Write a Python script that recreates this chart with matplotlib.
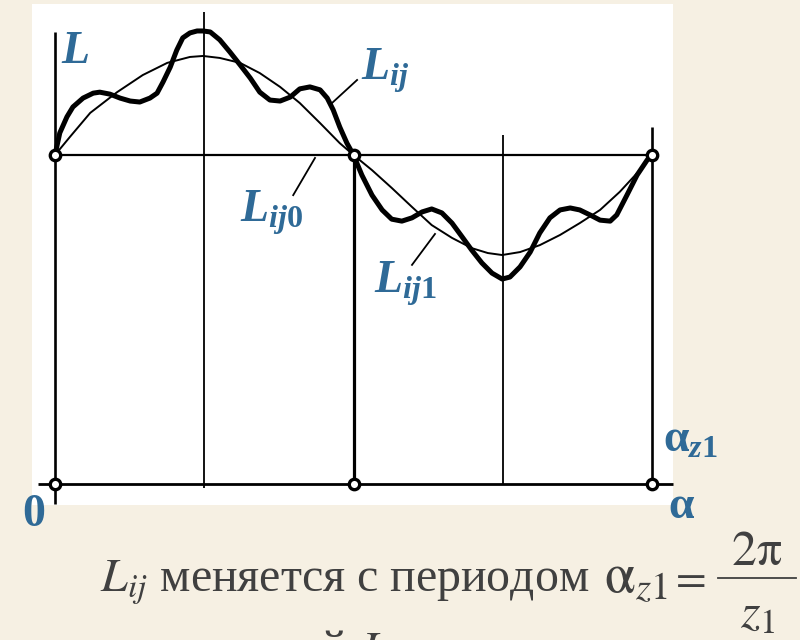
import matplotlib
matplotlib.use('Agg')
import matplotlib.pyplot as plt
from matplotlib.lines import Line2D

plt.rcParams['mathtext.fontset'] = 'custom'
plt.rcParams['mathtext.rm'] = 'Liberation Serif:bold'
plt.rcParams['mathtext.it'] = 'Liberation Serif:italic:bold'
plt.rcParams['mathtext.bf'] = 'Liberation Serif:bold'

# ---------------- data (alpha as fraction of alpha_z1, L relative to L_ij0) -------------
nodes_alpha = [0.0, 0.5, 1.0]
grid_alpha = [0.0, 0.25, 0.5, 0.75, 1.0]
grid_top = [1.374, 1.435, 1.0, 1.06, 1.085]
grid_bottom = [-0.06, -0.012, 0.0, 0.0, 0.0]
L_mean = 1.0

# L_ij (thick curve)
thick_alpha = [0.000, 0.008, 0.020, 0.030, 0.047, 0.064, 0.075, 0.092, 0.109, 0.126,
               0.142, 0.159, 0.171, 0.181, 0.193, 0.204, 0.214, 0.226, 0.238, 0.248,
               0.260, 0.276, 0.293, 0.310, 0.327, 0.343, 0.360, 0.377, 0.394, 0.410,
               0.427, 0.444, 0.456, 0.466, 0.477, 0.489, 0.500,
               0.514, 0.531, 0.548, 0.564, 0.581, 0.598, 0.615, 0.631, 0.648, 0.665,
               0.682, 0.698, 0.715, 0.732, 0.749, 0.762, 0.779, 0.796, 0.812, 0.829,
               0.846, 0.863, 0.879, 0.896, 0.913, 0.930, 0.941, 0.958, 0.975, 0.992, 1.000]
thick_L = [1.000, 1.067, 1.116, 1.146, 1.173, 1.188, 1.191, 1.185, 1.173, 1.164,
           1.161, 1.173, 1.188, 1.222, 1.267, 1.319, 1.356, 1.371, 1.377, 1.377,
           1.374, 1.350, 1.313, 1.274, 1.234, 1.191, 1.167, 1.164, 1.176, 1.201,
           1.207, 1.198, 1.173, 1.137, 1.085, 1.036, 1.000,
           0.939, 0.878, 0.833, 0.805, 0.799, 0.809, 0.827, 0.836, 0.824, 0.793,
           0.751, 0.711, 0.672, 0.641, 0.623, 0.629, 0.660, 0.705, 0.763, 0.809,
           0.833, 0.839, 0.833, 0.818, 0.802, 0.799, 0.818, 0.878, 0.939, 0.985, 1.000]

# L_ij1 (thin curve, first harmonic)
thin_alpha = [0.000, 0.025, 0.059, 0.104, 0.147, 0.188, 0.226, 0.248, 0.276, 0.310,
              0.343, 0.377, 0.410, 0.444, 0.477, 0.500, 0.531, 0.564, 0.598, 0.631,
              0.665, 0.698, 0.725, 0.749, 0.779, 0.812, 0.846, 0.879, 0.913, 0.946,
              0.975, 1.000]
thin_L = [1.000, 1.055, 1.128, 1.191, 1.243, 1.280, 1.298, 1.301, 1.295, 1.280,
          1.249, 1.207, 1.158, 1.097, 1.036, 1.000, 0.954, 0.900, 0.842, 0.787,
          0.748, 0.717, 0.702, 0.696, 0.705, 0.726, 0.757, 0.793, 0.833, 0.888,
          0.945, 1.000]

BG = '#F6F0E3'
BLUE = '#2F6A97'
GRAY = '#404040'
W, H = 800, 640

fig = plt.figure(figsize=(8, 6.4), dpi=100, facecolor=BG)
ax = fig.add_axes([32 / W, 135 / H, 641 / W, 501 / H])
ax.set_facecolor('white')
ax.set_xlim(-23 / 597, 618 / 597)
ax.set_ylim(-21 / 329, 480 / 329)
for s in ax.spines.values():
    s.set_visible(False)
ax.set_xticks([])
ax.set_yticks([])

# axes / grid
ax.plot([-0.028, 1.036], [0, 0], color='black', lw=2.0, clip_on=False, solid_capstyle='butt')
grid_lw = [1.9, 1.3, 2.3, 1.3, 1.9]
for a, t, b, lw in zip(grid_alpha, grid_top, grid_bottom, grid_lw):
    ax.plot([a, a], [b, t], color='black', lw=lw, solid_capstyle='butt')
ax.plot([nodes_alpha[0], nodes_alpha[-1]], [L_mean, L_mean], color='black', lw=1.6)

# curves
ax.plot(thin_alpha, thin_L, color='black', lw=1.4, solid_joinstyle='round')
ax.plot(thick_alpha, thick_L, color='black', lw=3.6, solid_joinstyle='round',
        solid_capstyle='round')

# nodes
for yv in (L_mean, 0.0):
    ax.plot(nodes_alpha, [yv] * len(nodes_alpha), 'o', mfc='white', mec='black',
            ms=7.5, mew=2.4, zorder=6, clip_on=False)

# pointer lines
ax.plot([0.464, 0.506], [1.158, 1.228], color='black', lw=1.3)
ax.plot([0.4355, 0.399], [0.991, 0.878], color='black', lw=1.3)
ax.plot([0.6365, 0.598], [0.760, 0.666], color='black', lw=1.3)

# blue labels
lab = dict(color=BLUE, fontsize=33, va='baseline', ha='left', clip_on=False)
ax.text(0.010, 1.280, r'$L$', **lab)
ax.text(0.512, 1.228, r'$L_{ij}$', **lab)
ax.text(0.310, 0.796, r'$L_{ij\mathrm{0}}$', **lab)
ax.text(0.535, 0.581, r'$L_{ij\mathrm{1}}$', **lab)
ax.text(-0.056, -0.128, r'$\mathrm{0}$', **lab)
ax.text(1.026, -0.103, r'$\mathrm{\alpha}$', **lab)
ax.text(1.018, 0.097, r'$\mathrm{\alpha}_{z\mathit{1}}$', **lab)

# caption
cap = dict(color=GRAY, fontsize=34.5, family='Liberation Serif', math_fontfamily='stix',
           va='baseline', ha='left')
fig.text(100 / W, 1 - 592 / H, r'$L_{ij}$ меняется с периодом', **cap)
fig.text(604 / W, 1 - 592 / H, r'$\mathrm{\alpha}_{z1}$', **dict(cap, fontsize=40))
fig.text(687 / W, 1 - 590 / H, r'$=$', **dict(cap, ha='center', fontsize=32))
fig.text(757 / W, 1 - 565 / H, r'$2\mathrm{\pi}$', **dict(cap, ha='center', fontsize=36))
fig.add_artist(Line2D([718 / W, 796 / W], [1 - 578 / H, 1 - 578 / H],
                      transform=fig.transFigure, color=GRAY, lw=1.3))
fig.text(758 / W, 1 - 627 / H, r'$z_1$', **dict(cap, ha='center', fontsize=36))
fig.text(348 / W, 1 - 664 / H, 'частотой', **dict(cap, ha='right'))
fig.text(360 / W, 1 - 664 / H, r'$L$', **cap)

fig.savefig('out.png', dpi=100, facecolor=BG)
